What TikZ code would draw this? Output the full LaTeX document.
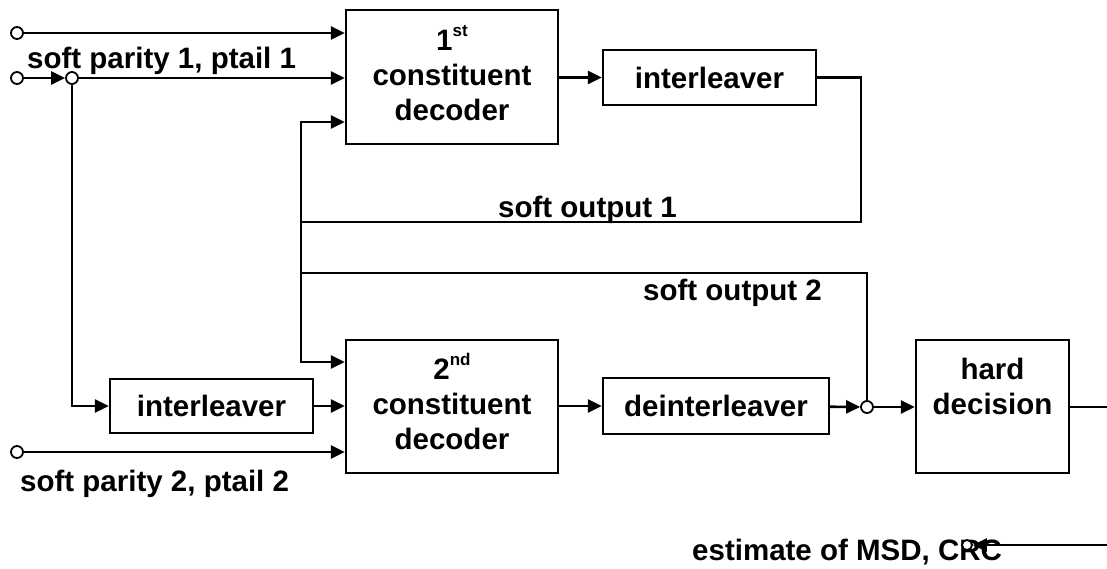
\documentclass[tikz,border=0pt]{standalone}
\usepackage{fontspec}
\setmainfont{Liberation Sans}
\usetikzlibrary{arrows.meta}
\newcommand\myord[1]{\smash{\raisebox{14pt}{\fontsize{17}{17}\selectfont\bfseries #1}}}
\begin{document}
\begin{tikzpicture}[x=1pt,y=-1pt,
  every node/.style={font=\fontsize{29.5}{35}\selectfont\bfseries},
  box/.style={draw, line width=2.4pt, inner sep=0pt},
  btext/.style={align=center, inner sep=0pt},
  con/.style={line width=2.6pt},
  arr/.style={con, -{Triangle[length=14pt,width=13pt]}},
  pin/.style={circle, draw, fill=white, line width=1.8pt, minimum size=12pt, inner sep=0pt},
  lbl/.style={anchor=base west, inner sep=0pt}]
\useasboundingbox (0,0) rectangle (1107,568);

% boxes
\node[box, minimum width=212pt, minimum height=134pt] (dec1) at (452,77) {};
\node[box, minimum width=213pt, minimum height=55pt] (il1) at (709.5,77.5) {};
\node[box, minimum width=212pt, minimum height=133pt] (dec2) at (452,406.5) {};
\node[box, minimum width=203pt, minimum height=54pt] (il2) at (211.5,406) {};
\node[box, minimum width=226pt, minimum height=56pt] (deil) at (716,406) {};
\node[box, minimum width=153pt, minimum height=133pt] (hd) at (992.5,406.5) {};

% box texts
\node[btext, yshift=2pt] (t1) at (dec1.center) {1\myord{st}\\constituent\\decoder};
\node[btext] (t2) at (il1.center) {interleaver};
\node[btext, yshift=2pt] (t3) at (dec2.center) {2\myord{nd}\\constituent\\decoder};
\node[btext] (t4) at (il2.center) {interleaver};
\node[btext] (t5) at (deil.center) {deinterleaver};
\node[btext, yshift=20.5pt] (t6) at (hd.center) {hard\\decision};

% labels
\node[lbl] (l1) at (27,68) {soft parity 1, ptail 1};
\node[lbl] (l2) at (20,491) {soft parity 2, ptail 2};
\node[lbl] (l3) at (498,217) {soft output 1};
\node[lbl] (l4) at (643,300) {soft output 2};
\node[lbl] (l5) at (692,560) {estimate of MSD, CRC};

% pins
\node[pin] (in1) at (17,33) {};
\node[pin] (in2) at (17,78) {};
\node[pin] (j1) at (72,78) {};
\node[pin] (in3) at (17,452) {};
\node[pin] (j2) at (867,407) {};
\node[pin, minimum size=10pt] (oc) at (967,545) {};

\coordinate (fb1) at (301,222);
\coordinate (fb2) at (301,273);
\coordinate (r1) at (861,222);
\coordinate (out1) at (1107,407);
\coordinate (out2) at (1107,545);

% connectors
\draw[arr] (in1) -- (dec1.west |- in1);
\draw[arr] (in2) -- (j1);
\draw[arr] (j1) -- (dec1.west |- j1);
\draw[arr] (j1) |- (il2);
\draw[arr] (il2) -- (dec2.west |- il2);
\draw[arr] (in3) -- (dec2.west |- in3);
\draw[arr] (dec1.east |- il1.west) -- (il1.west);
\draw[con] (il1.east) -| (r1) -- (fb1);
\draw[con] (j2) |- (fb2);
\draw[arr] (fb1) |- (dec1.west |- 0,122);
\draw[arr] (fb1) |- (dec2.west |- 0,362);
\draw[arr] (dec2.east |- deil.west) -- (deil.west);
\draw[arr] (deil) -- (j2);
\draw[arr] (j2) -- (hd.west |- j2);
\draw[con] (hd.east |- j2) -- (out1);
\draw[arr] (out2) -- (oc);
\end{tikzpicture}
\end{document}
